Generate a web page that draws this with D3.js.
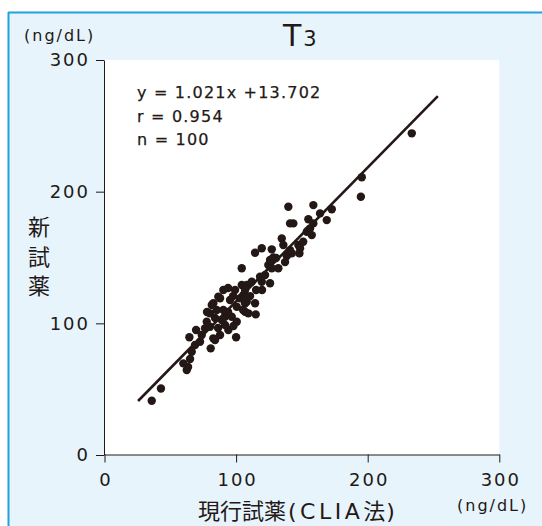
<!DOCTYPE html>
<html>
<head>
<meta charset="utf-8">
<script src="https://cdn.jsdelivr.net/npm/d3@7"></script>
<style>
  body { margin: 0; background: #fff; }
  text { fill: #231815; }
</style>
</head>
<body>
<svg id="chart" width="542" height="526"></svg>
<script>
// values (ng/dL)
const currentReagent = [
  35.9, 42.9, 59.9, 62.5, 63.5, 65.0, 66.3, 64.5, 68.8, 72.6,
  73.9, 80.7, 84.0, 87.8, 94.1, 100.0, 76.4, 77.7, 80.2, 81.5,
  85.3, 87.8, 90.3, 91.6, 100.5, 103.0, 106.8, 109.3, 114.4, 114.9,
  100.5, 82.7, 82.7, 89.1, 90.3, 95.4, 96.7, 98.0, 105.5, 104.3,
  108.1, 99.2, 86.5, 80.2, 104.3, 111.9, 106.8, 118.2, 125.8, 119.5,
  124.5, 127.1, 132.1, 125.8, 128.3, 119.5, 114.4, 127.1, 138.5, 142.3,
  134.7, 135.9, 147.3, 148.6, 141.0, 143.5, 139.7, 158.7, 168.9, 172.7,
  163.8, 154.9, 156.2, 153.7, 157.5, 158.7, 151.0, 148.1, 195.5, 194.8,
  233.5, 108.1, 106.8, 91.6, 86.3, 93.9, 97.7, 93.9, 110.6, 119.7,
  122.0, 130.4, 84.0, 77.9, 69.6, 115.2, 137.2, 141.0, 154.9, 105.3
];
const newReagent = [
  41.2, 50.5, 69.6, 64.5, 66.8, 72.9, 78.4, 89.4, 83.5, 86.0,
  91.1, 81.0, 87.3, 91.1, 94.9, 89.4, 96.2, 101.2, 107.6, 113.9,
  110.1, 119.0, 125.3, 105.0, 112.6, 119.0, 115.2, 107.6, 115.2, 106.8,
  101.2, 115.2, 88.6, 102.5, 110.1, 117.7, 105.0, 98.0, 121.5, 129.1,
  129.1, 125.3, 120.2, 97.4, 141.8, 131.6, 125.3, 135.4, 130.4, 131.6,
  144.3, 141.8, 141.8, 148.1, 150.1, 157.0, 153.6, 156.2, 151.1, 153.2,
  164.5, 159.5, 159.5, 157.0, 175.9, 175.9, 188.5, 189.8, 178.4, 186.6,
  183.5, 179.0, 172.1, 169.6, 167.0, 175.9, 162.0, 153.2, 210.9, 196.1,
  244.3, 116.4, 108.8, 98.7, 96.4, 108.6, 120.7, 126.8, 120.7, 125.3,
  136.7, 149.6, 104.0, 108.6, 94.9, 125.3, 146.5, 155.6, 170.8, 110.1
];
// regression line ends as drawn
const lineEnds = [[25.5, 41.0], [253.3, 272.5]];
const xTicks = [0, 100, 200, 300];
const yTicks = [0, 100, 200, 300];
const statLines = ['y = 1.021x +13.702', 'r = 0.954', 'n = 100'];

const ink = '#231815';
const fig = { left: 104.5, right: 499.3, top: 60, bottom: 455 };

const svg = d3.select('#chart');

// panel
svg.append('rect')
  .attr('x', 8).attr('y', 12)
  .attr('width', 542).attr('height', 526)
  .style('fill', '#e7f4fc');
svg.append('line')
  .attr('x1', 8.5).attr('x2', 8.5).attr('y1', 12).attr('y2', 526)
  .style('stroke', '#1fa2dd').style('stroke-width', 2);
svg.append('line')
  .attr('x1', 8).attr('x2', 542).attr('y1', 12.5).attr('y2', 12.5)
  .style('stroke', '#1fa2dd').style('stroke-width', 2);

const x = d3.scaleLinear()
  .domain([0, 300])
  .range([fig.left, fig.right]);
const y = d3.scaleLinear()
  .domain([0, 300])
  .range([fig.bottom, fig.top]);

// plot area
svg.append('rect')
  .attr('x', fig.left).attr('y', fig.top)
  .attr('width', fig.right - fig.left).attr('height', fig.bottom - fig.top)
  .style('fill', '#fff');

const xAxis = d3.axisBottom(x)
  .tickValues(xTicks)
  .tickSize(8)
  .tickSizeOuter(0)
  .tickPadding(11);
const yAxis = d3.axisLeft(y)
  .tickValues(yTicks)
  .tickSize(8)
  .tickSizeOuter(0)
  .tickPadding(6);

const gx = svg.append('g')
  .attr('transform', 'translate(0,' + (fig.bottom - 0.5) + ')')
  .call(xAxis);
const gy = svg.append('g')
  .attr('transform', 'translate(' + (fig.left - 0.5) + ',0)')
  .call(yAxis);

[gx, gy].forEach(g => {
  g.selectAll('path, line').style('stroke', ink).style('stroke-width', 1);
  g.selectAll('text')
    .style('font-family', 'DejaVu Sans')
    .style('font-size', '18px')
    .style('letter-spacing', '2px')
    .style('fill', ink);
});
gx.selectAll('text').attr('dx', '1px');

// regression line
svg.append('line')
  .attr('x1', x(lineEnds[0][0])).attr('y1', y(lineEnds[0][1]))
  .attr('x2', x(lineEnds[1][0])).attr('y2', y(lineEnds[1][1]))
  .style('stroke', ink)
  .style('stroke-width', 2.6);

// dots
svg.selectAll('.dot')
  .data(currentReagent.map((d, i) => [d, newReagent[i]]))
  .join('circle')
    .attr('class', 'dot')
    .attr('cx', d => x(d[0]))
    .attr('cy', d => y(d[1]))
    .attr('r', 4.2)
    .style('fill', ink);

// stats
svg.selectAll('.stat')
  .data(statLines)
  .join('text')
    .attr('class', 'stat')
    .attr('x', 137)
    .attr('y', (d, i) => 98 + i * 23.5)
    .style('font-family', 'DejaVu Sans')
    .style('font-size', '16px')
    .style('letter-spacing', '1.2px')
    .style('stroke', ink)
    .style('stroke-width', 0.25)
    .text(d => d);

// title
const title = svg.append('text')
  .attr('x', 283)
  .attr('y', 46)
  .style('font-family', 'DejaVu Sans');
title.append('tspan').style('font-size', '30px').text('T');
title.append('tspan').attr('dx', 2).style('font-size', '21px').text('3');

// units
svg.append('text')
  .attr('x', 24).attr('y', 41)
  .style('font-family', 'DejaVu Sans')
  .style('font-size', '16px')
  .style('letter-spacing', '2px')
  .text('(ng/dL)');
svg.append('text')
  .attr('x', 457).attr('y', 511)
  .style('font-family', 'DejaVu Sans')
  .style('font-size', '16px')
  .style('letter-spacing', '2px')
  .text('(ng/dL)');

// axis titles
const xTitle = svg.append('text')
  .attr('x', 198).attr('y', 519)
  .style('font-size', '22px');
xTitle.append('tspan').style('font-family', '"Noto Sans CJK JP"').text('現行試薬');
xTitle.append('tspan').attr('dx', 2)
  .style('font-family', 'DejaVu Sans').style('letter-spacing', '3.5px')
  .text('(CLIA');
xTitle.append('tspan').style('font-family', '"Noto Sans CJK JP"').text('法');
xTitle.append('tspan').attr('dx', 1).style('font-family', 'DejaVu Sans').text(')');

svg.selectAll('.ylab')
  .data(['新', '試', '薬'])
  .join('text')
    .attr('class', 'ylab')
    .attr('x', 39)
    .attr('y', (d, i) => 235 + i * 29.5)
    .attr('text-anchor', 'middle')
    .style('font-family', '"Noto Sans CJK JP"')
    .style('font-size', '22px')
    .text(d => d);
</script>
</body>
</html>
